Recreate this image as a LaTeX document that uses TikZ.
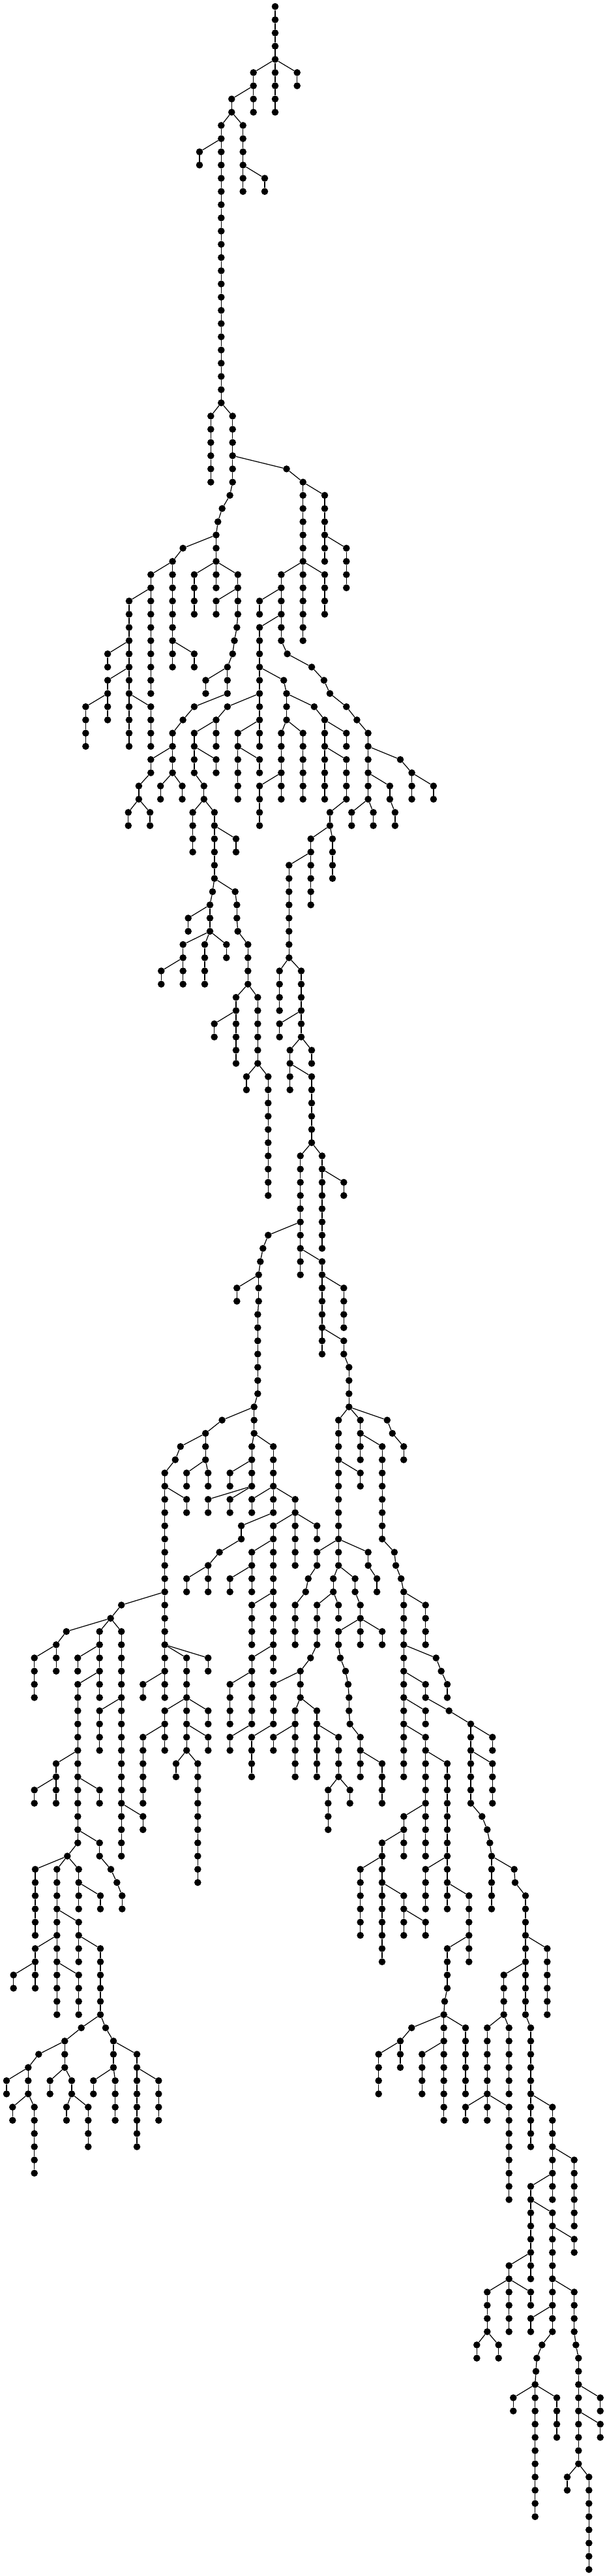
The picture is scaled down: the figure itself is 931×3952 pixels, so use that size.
\documentclass[tikz,border=0pt]{standalone}
\tikzset{
  dotnode/.style={circle,fill=black,draw=none,inner sep=0pt,minimum size=10.6pt},
  treeedge/.style={draw=black,line width=1.25pt}
}
\newcommand\chnodes[5]{\foreach\rw in {#4,...,#5}{\node[dotnode] (n#3r\rw) at ({#3/10},{10+20.268*\rw}) {};}}
\newcommand\chedges[5]{\ifnum#1>0 \draw[treeedge] (n#1r#2) -- (n#3r#4);\fi
  \foreach\rw [remember=\rw as \pr (initially #4)] in {#4,...,#5}{\ifnum\rw>#4 \draw[treeedge] (n#3r\pr) -- (n#3r\rw);\fi}}
\newcommand\treedata{%
\ch{0}{0}{4220}{0}{4}
\ch{4220}{4}{4557}{5}{6}
\ch{4220}{4}{4220}{5}{8}
\ch{4220}{4}{3887}{5}{8}
\ch{3887}{6}{3553}{7}{8}
\ch{3553}{8}{3393}{9}{30}
\ch{3553}{8}{3727}{9}{14}
\ch{3727}{12}{4060}{13}{14}
\ch{3393}{10}{3060}{11}{12}
\ch{3393}{30}{3233}{31}{36}
\ch{3393}{30}{3567}{31}{36}
\ch{3567}{34}{4395}{35}{35}
\ch{4395}{35}{4647}{36}{42}
\ch{4647}{36}{4980}{37}{42}
\ch{4980}{40}{5313}{41}{44}
\ch{4647}{42}{4314}{43}{48}
\ch{4647}{42}{4647}{43}{48}
\ch{4647}{42}{4980}{43}{46}
\ch{3567}{36}{3526}{37}{37}
\ch{3526}{37}{3407}{38}{38}
\ch{3407}{38}{3342}{39}{39}
\ch{3342}{39}{3315}{40}{42}
\ch{3315}{40}{2806}{41}{41}
\ch{2806}{41}{2646}{42}{42}
\ch{2646}{42}{2313}{43}{52}
\ch{2646}{42}{2646}{43}{50}
\ch{2313}{44}{1980}{45}{56}
\ch{1980}{48}{1651}{49}{50}
\ch{1980}{50}{1651}{51}{52}
\ch{1651}{52}{1314}{53}{56}
\ch{1651}{52}{1651}{53}{54}
\ch{1980}{52}{2313}{53}{56}
\ch{2646}{48}{2979}{49}{50}
\ch{3315}{42}{2979}{43}{46}
\ch{3315}{42}{3315}{43}{44}
\ch{3315}{42}{3648}{43}{46}
\ch{3648}{44}{3315}{45}{46}
\ch{3648}{46}{3633}{47}{47}
\ch{3633}{47}{3595}{48}{48}
\ch{3595}{48}{3568}{49}{49}
\ch{3568}{49}{3488}{50}{52}
\ch{3488}{50}{3155}{51}{52}
\ch{3488}{52}{2979}{53}{53}
\ch{2979}{53}{2806}{54}{54}
\ch{2806}{54}{2646}{55}{58}
\ch{2646}{56}{2313}{57}{58}
\ch{2313}{58}{2129}{59}{60}
\ch{2129}{60}{1968}{61}{62}
\ch{2129}{60}{2301}{61}{62}
\ch{2646}{58}{2462}{59}{60}
\ch{2646}{58}{2795}{59}{60}
\ch{4314}{44}{3981}{45}{46}
\ch{4314}{46}{3981}{47}{56}
\ch{3981}{50}{4352}{51}{51}
\ch{4352}{51}{4395}{52}{54}
\ch{4395}{52}{4819}{53}{53}
\ch{4819}{53}{4980}{54}{60}
\ch{3981}{52}{3488}{53}{53}
\ch{3488}{53}{3315}{54}{56}
\ch{3315}{54}{2979}{55}{58}
\ch{2979}{56}{3315}{57}{58}
\ch{2979}{58}{3128}{59}{60}
\ch{3128}{60}{2956}{61}{64}
\ch{3128}{60}{3289}{61}{66}
\ch{3981}{54}{3648}{55}{60}
\ch{3648}{56}{3981}{57}{58}
\ch{4314}{48}{4406}{49}{49}
\ch{4406}{49}{4781}{50}{50}
\ch{4781}{50}{4969}{51}{51}
\ch{4969}{51}{5060}{52}{52}
\ch{5060}{52}{5313}{53}{53}
\ch{5313}{53}{5474}{54}{54}
\ch{5474}{54}{5646}{55}{60}
\ch{5646}{56}{6140}{57}{57}
\ch{6140}{57}{6316}{58}{60}
\ch{6316}{58}{6649}{59}{60}
\ch{5646}{58}{5979}{59}{60}
\ch{5979}{60}{6059}{61}{62}
\ch{5646}{60}{5393}{61}{62}
\ch{5646}{60}{5726}{61}{62}
\ch{4395}{54}{4314}{55}{60}
\ch{4395}{54}{4647}{55}{60}
\ch{4314}{58}{3981}{59}{62}
\ch{4980}{54}{5313}{55}{56}
\ch{4980}{56}{5313}{57}{60}
\ch{5313}{60}{5060}{61}{62}
\ch{5060}{62}{4767}{63}{68}
\ch{5060}{62}{5100}{63}{66}
\ch{4767}{64}{4433}{65}{72}
\ch{4433}{72}{4287}{73}{76}
\ch{4433}{72}{4620}{73}{78}
\ch{4620}{76}{4287}{77}{78}
\ch{4620}{78}{4447}{79}{82}
\ch{4620}{78}{4780}{79}{80}
\ch{4447}{80}{4780}{81}{86}
\ch{4780}{86}{4607}{87}{96}
\ch{4780}{86}{4940}{87}{94}
\ch{4940}{88}{5273}{89}{90}
\ch{4607}{92}{4113}{93}{93}
\ch{4113}{93}{4033}{94}{94}
\ch{4033}{94}{3993}{95}{95}
\ch{3993}{95}{3967}{96}{98}
\ch{3967}{96}{3633}{97}{98}
\ch{3967}{98}{3953}{99}{105}
\ch{4607}{94}{4940}{95}{102}
\ch{4940}{96}{5273}{97}{100}
\ch{4940}{100}{5273}{101}{102}
\ch{5273}{102}{5353}{103}{106}
\ch{3289}{62}{3620}{63}{64}
\ch{3289}{66}{3260}{67}{67}
\ch{3260}{67}{3220}{68}{70}
\ch{3220}{68}{2887}{69}{70}
\ch{3220}{70}{2807}{71}{74}
\ch{3220}{70}{3140}{71}{74}
\ch{3220}{70}{3473}{71}{72}
\ch{2807}{72}{2473}{73}{74}
\ch{3289}{66}{3607}{67}{67}
\ch{3607}{67}{3633}{68}{69}
\ch{3633}{69}{3647}{70}{70}
\ch{3647}{70}{3803}{71}{74}
\ch{3803}{74}{3620}{75}{80}
\ch{3803}{74}{3953}{75}{80}
\ch{3620}{76}{3287}{77}{78}
\ch{3953}{80}{3780}{81}{82}
\ch{3953}{80}{4113}{81}{90}
\ch{3953}{105}{3897}{106}{108}
\ch{3897}{106}{3406}{107}{107}
\ch{3406}{107}{3152}{108}{110}
\ch{3152}{108}{2768}{109}{109}
\ch{2768}{109}{2688}{110}{110}
\ch{2688}{110}{2527}{111}{128}
\ch{2527}{112}{2862}{113}{114}
\ch{2527}{120}{1862}{121}{121}
\ch{1862}{121}{1696}{122}{122}
\ch{1696}{122}{1018}{123}{123}
\ch{1696}{122}{1527}{123}{128}
\ch{1696}{122}{1862}{123}{140}
\ch{1018}{123}{862}{124}{126}
\ch{862}{124}{527}{125}{128}
\ch{1527}{124}{1192}{125}{126}
\ch{1527}{126}{1193}{127}{139}
\ch{1193}{132}{860}{133}{136}
\ch{860}{134}{527}{135}{136}
\ch{1193}{134}{1527}{135}{136}
\ch{1193}{138}{1527}{139}{140}
\ch{1527}{140}{1700}{141}{141}
\ch{1700}{141}{1793}{142}{142}
\ch{1793}{142}{1873}{143}{144}
\ch{1193}{139}{1033}{140}{140}
\ch{1033}{140}{540}{141}{146}
\ch{1033}{140}{873}{141}{152}
\ch{1033}{140}{1207}{141}{144}
\ch{1207}{142}{1540}{143}{144}
\ch{873}{144}{1207}{145}{148}
\ch{1207}{146}{1540}{147}{152}
\ch{873}{146}{540}{147}{148}
\ch{540}{148}{207}{149}{150}
\ch{540}{148}{540}{149}{150}
\ch{873}{148}{1207}{149}{152}
\ch{1540}{152}{1247}{153}{153}
\ch{1247}{153}{993}{154}{156}
\ch{1540}{152}{1620}{153}{153}
\ch{1620}{153}{1740}{154}{156}
\ch{1740}{154}{2100}{155}{162}
\ch{1740}{156}{1433}{157}{158}
\ch{1740}{156}{1767}{157}{160}
\ch{2100}{156}{2433}{157}{160}
\ch{993}{154}{593}{155}{155}
\ch{593}{155}{433}{156}{158}
\ch{433}{156}{100}{157}{158}
\ch{433}{158}{193}{159}{160}
\ch{433}{158}{527}{159}{164}
\ch{993}{156}{767}{157}{158}
\ch{993}{156}{1100}{157}{158}
\ch{1100}{158}{1020}{159}{160}
\ch{1100}{158}{1353}{159}{162}
\ch{1862}{128}{1527}{129}{132}
\ch{1862}{136}{2193}{137}{138}
\ch{2527}{126}{2193}{127}{128}
\ch{2527}{124}{2862}{125}{128}
\ch{2527}{124}{3192}{125}{126}
\ch{2862}{128}{2527}{129}{132}
\ch{2862}{128}{2862}{129}{132}
\ch{2862}{128}{3193}{129}{130}
\ch{2862}{130}{3193}{131}{132}
\ch{2862}{132}{2700}{133}{134}
\ch{2862}{132}{3033}{133}{142}
\ch{2527}{130}{2193}{131}{136}
\ch{3152}{110}{2862}{111}{112}
\ch{3152}{110}{3192}{111}{112}
\ch{3897}{108}{3862}{109}{112}
\ch{3897}{108}{4192}{109}{112}
\ch{3862}{110}{3527}{111}{112}
\ch{3862}{112}{3192}{113}{114}
\ch{3862}{112}{3527}{113}{114}
\ch{4192}{112}{3862}{113}{114}
\ch{4192}{112}{4192}{113}{114}
\ch{4192}{112}{4527}{113}{118}
\ch{4192}{114}{3701}{115}{116}
\ch{3701}{116}{3366}{117}{117}
\ch{3366}{117}{3192}{118}{120}
\ch{3192}{118}{2862}{119}{120}
\ch{4527}{114}{4192}{115}{126}
\ch{4527}{114}{4862}{115}{116}
\ch{4192}{116}{3862}{117}{120}
\ch{3862}{118}{3527}{119}{120}
\ch{4192}{120}{3862}{121}{124}
\ch{4192}{124}{3862}{125}{130}
\ch{3862}{126}{3527}{127}{130}
\ch{3862}{130}{3527}{131}{132}
\ch{5353}{106}{5192}{107}{116}
\ch{5353}{106}{5527}{107}{110}
\ch{5353}{106}{5938}{107}{107}
\ch{5938}{107}{6018}{108}{108}
\ch{6018}{108}{6192}{109}{110}
\ch{5527}{108}{5862}{109}{116}
\ch{5862}{116}{6049}{117}{117}
\ch{6049}{117}{6071}{118}{118}
\ch{6071}{118}{6152}{119}{119}
\ch{6152}{119}{6192}{120}{134}
\ch{6192}{120}{6527}{121}{124}
\ch{6192}{124}{6688}{125}{125}
\ch{6688}{125}{6767}{126}{126}
\ch{6767}{126}{6860}{127}{128}
\ch{6192}{126}{6527}{127}{128}
\ch{6527}{128}{6887}{129}{129}
\ch{6887}{129}{7220}{130}{136}
\ch{7220}{130}{7553}{131}{132}
\ch{7220}{132}{7553}{133}{136}
\ch{7220}{136}{7393}{137}{137}
\ch{7393}{137}{7473}{138}{138}
\ch{7473}{138}{7513}{139}{139}
\ch{7513}{139}{7540}{140}{144}
\ch{7540}{140}{7887}{141}{141}
\ch{7887}{141}{7900}{142}{142}
\ch{7900}{142}{8060}{143}{152}
\ch{8060}{146}{8393}{147}{152}
\ch{8060}{148}{7727}{149}{152}
\ch{6192}{128}{6527}{129}{130}
\ch{6192}{130}{6527}{131}{136}
\ch{6527}{132}{6860}{133}{144}
\ch{6527}{136}{6193}{137}{140}
\ch{6193}{138}{5860}{139}{148}
\ch{6527}{136}{6527}{137}{140}
\ch{5860}{140}{5527}{141}{146}
\ch{5860}{142}{6193}{143}{146}
\ch{6193}{144}{6527}{145}{146}
\ch{6860}{140}{6527}{141}{144}
\ch{6860}{142}{7193}{143}{148}
\ch{7193}{146}{6860}{147}{150}
\ch{6860}{150}{6820}{151}{151}
\ch{6820}{151}{6807}{152}{160}
\ch{6807}{152}{6313}{153}{153}
\ch{6313}{153}{6140}{154}{156}
\ch{6140}{154}{5807}{155}{158}
\ch{6807}{154}{6473}{155}{158}
\ch{6807}{152}{7140}{153}{158}
\ch{7727}{152}{7473}{153}{158}
\ch{7727}{152}{7807}{153}{158}
\ch{7473}{158}{7140}{159}{160}
\ch{7473}{158}{7473}{159}{160}
\ch{7473}{158}{7807}{159}{166}
\ch{8060}{152}{8140}{153}{162}
\ch{8140}{158}{8473}{159}{166}
\ch{8473}{162}{8807}{163}{168}
\ch{8473}{164}{8140}{165}{172}
\ch{8140}{166}{8473}{167}{176}
\ch{8473}{168}{8807}{169}{170}
\ch{8140}{170}{7807}{171}{176}
\ch{7807}{172}{7473}{173}{176}
\ch{7807}{172}{8140}{173}{174}
\ch{7473}{176}{7313}{177}{178}
\ch{7473}{176}{7647}{177}{178}
\ch{8473}{172}{8807}{173}{176}
\ch{8473}{174}{8140}{175}{176}
\ch{8473}{176}{8313}{177}{177}
\ch{8313}{177}{8233}{178}{178}
\ch{8233}{178}{8220}{179}{179}
\ch{8220}{179}{8207}{180}{190}
\ch{8207}{180}{7873}{181}{182}
\ch{8207}{180}{8540}{181}{184}
\ch{8807}{176}{8833}{177}{177}
\ch{8833}{177}{8873}{178}{186}
\ch{8873}{180}{9207}{181}{182}
\ch{8873}{182}{9207}{183}{184}
\ch{8873}{186}{8700}{187}{188}
\ch{8873}{186}{9033}{187}{194}
\ch{5192}{110}{5527}{111}{112}
\ch{5192}{116}{4862}{117}{118}
\ch{4862}{118}{4728}{119}{119}
\ch{4728}{119}{4688}{120}{120}
\ch{4688}{120}{4527}{121}{124}
\ch{5192}{116}{5647}{117}{118}
\ch{5647}{118}{5781}{119}{120}
\ch{5192}{116}{5192}{117}{118}
\ch{5192}{118}{5112}{119}{120}
\ch{5192}{118}{5446}{119}{120}
\ch{5112}{120}{4862}{121}{124}
\ch{5112}{120}{5192}{121}{122}
\ch{4862}{124}{4763}{125}{125}
\ch{5446}{120}{5527}{121}{122}
\ch{5527}{122}{5192}{123}{124}
\ch{5527}{122}{5527}{123}{124}
\ch{5527}{122}{5862}{123}{124}
\ch{5192}{124}{5219}{125}{125}
\ch{5219}{125}{5300}{126}{126}
\ch{5300}{126}{5340}{127}{127}
\ch{5340}{127}{5353}{128}{129}
\ch{5353}{129}{5367}{130}{130}
\ch{5367}{130}{5527}{131}{134}
\ch{5527}{132}{5860}{133}{136}
\ch{4763}{125}{4607}{126}{128}
\ch{4607}{126}{4193}{127}{130}
\ch{4193}{130}{3860}{131}{134}
\ch{4607}{128}{4527}{129}{134}
\ch{4527}{130}{4193}{131}{132}
\ch{4607}{128}{4860}{129}{134}
\ch{4860}{130}{5193}{131}{134}
\ch{5193}{134}{5033}{135}{138}
\ch{5193}{134}{5367}{135}{136}
}
\begin{document}
\begin{tikzpicture}[x=1pt,y=-1pt]
\useasboundingbox (0,0) rectangle (931,3952);
\fill[white] (0,0) rectangle (931,3952);
\let\ch\chnodes
\treedata
\let\ch\chedges
\treedata
\end{tikzpicture}
\end{document}
